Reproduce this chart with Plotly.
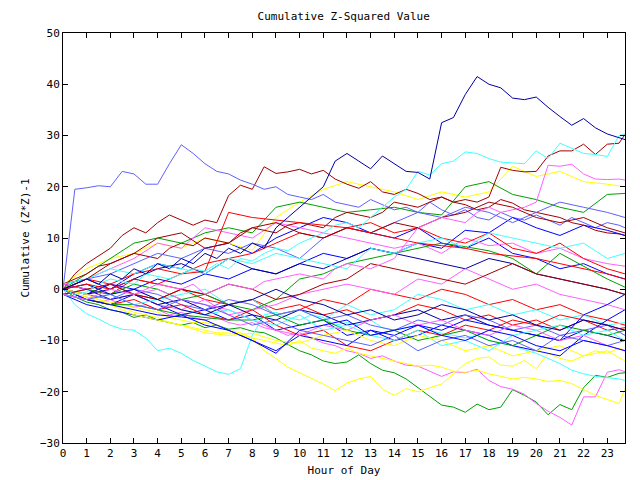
import plotly.graph_objects as go

HOURS = list(range(24)) + [23.75]
HALF_HOURS = [i / 2 for i in range(48)] + [23.75]
TICK_HOURS = list(range(24))

RED = "#ff0000"; GREEN = "#00a000"; BLUE = "#0000ff"; MAGENTA = "#ff60ff"
CYAN = "#40ffff"; YELLOW = "#ffff00"; DARKRED = "#a00000"; DARKBLUE = "#0000a0"; LIGHTBLUE = "#6060ff"

# ---- hourly series (approximate readings) ----
red_1 = [0, -1, 1, -1, -2, 0, -2, -3, -2, -4, -3, -5, -4, -6, -5, -3, -4, -6, -5, -7, -6, -8, -6, -8, -7.5]
red_2 = [1, 0, -1, 2, 1, 0, -1, -3, -2, -5, -4, -2, -3, 0, -1, -2, 0, -1, -3, -2, -4, -3, -5, -6, -7]
red_3 = [0, 2, 1, 3, 4, 3, 5, 6, 7, 9, 11, 10, 12, 13, 11, 12, 10, 9, 11, 8, 7, 9, 6, 4, 3]
red_4 = [-1, -2, -3, -2, -4, -3, -5, -6, -4, -7, -9, -8, -11, -12, -10, -8, -9, -7, -8, -6, -7, -5, -6, -7, -8]
red_5 = [0, 1, 0, 2, 1, 3, 3.5, 15, 14, 13.5, 13, 12.5, 12, 11, 10, 9, 8.5, 8, 7, 6.5, 6, 5, 4, 3, 2]

green_2 = [0, 3, 6, 9, 10, 9, 11, 12, 11, 16, 17, 16, 15, 15.5, 16, 15, 14.5, 20, 21, 18.5, 17.5, 16, 15, 18.5, 18.7]
green_3 = [-1, 0, -1, 1, 0, -2, -1, -3, -4, -2, 2, 3, 5, 6, 7, 8, 9, 8.3, 7.5, 6, 3, 7, 4.5, 2, 0.4]
green_4 = [-1, -2, -3, -3, -4, -5, -5.5, -6, -6, -5, -7, -6, -8, -9, -8, -10, -9, -8, -10, -11, -9, -7, -8, -9, -8]

blue_1 = [1, 2, 0, 3, 5, 4, 8, 9, 7, 10, 12, 14, 13, 11, 10, 12, 9, 8, 10, 7, 6, 4, 5, 3, 2]
blue_2 = [0, -1, 1, 0, 2, 1, 3, 2, 4, 3, 5, 7, 6, 8, 7, 9, 8, 11.5, 11, 14, 12, 10.5, 12.5, 11.5, 10.5]
blue_3 = [0, -2, -3, -1, -3, -5, -4, -6, -5, -8, -7, -6, -9, -8, -10, -9, -7, -8, -9, -11, -12, -13, -9, -6, -4]
blue_4 = [-1, -3, -4, -5, -6, -5, -7, -8, -10, -12, -9, -10, -11, -8, -9, -7, -8, -6, -7, -8, -9, -10, -5, -3, -1]
blue_5 = [0, -2, -3, -4, -5, -5.4, -6, -8, -10, -12.5, -8, -7, -6, -9, -8, -7, -9, -10, -8, -9, -11, -12, -10, -11, -12]

magenta_2 = [0, 2, 4, 6, 9, 8, 12, 11, 10, 13, 12, 11, 10, 9, 8, 9, 7, 10, 8.5, 9, 7, 8, 6, 5, 4.5]
magenta_3 = [-1, 0, -2, -1, -3, -4, -2, -5, -4, -3, -1, 0, 1, 0, -1, 2, 1, 4, 2, 0, 1, -1, -2, -3, -4]
magenta_4 = [1, 0, 1, -1, 0, -2, -3, -4, -6, -8, -9, -7, -8, -6, -5, -7, -6, -8, -9, -7, -8, -10, -9, -11, -12]

cyan_2 = [0, 1, -1, 0, -2, -1, 0, -3, -2, -5, -4, -6, -3, -5, -4, -1, -2, -4, -3, -5, -4, -6, -5, -7, -6.5]
cyan_3 = [1, 2, 4, 3, 5, 4, 3, 6, 5, 7, 6, 5, 4, 8, 7, 9, 10, 8, 11, 10, 9, 8, 9, 6, 7]
cyan_4 = [-1, -2, -1, -3, -2, -4, -5, -4, -6, -7, -5, -8, -7, -9, -10, -8, -11, -10, -12, -9, -8, -7, -9, -8, -10]

yellow_1 = [1, 4, 6, 7, 9, 8, 10, 9, 7.6, 14, 17, 19.5, 21, 20, 19, 17.5, 19, 18, 19, 24, 22, 23, 21, 20.5, 20]
yellow_4 = [0, -1, -3, -5, -6, -7, -8.5, -9, -8.6, -10, -10.5, -9, -8, -10, -11, -9, -10, -12, -11, -13, -12, -11, -13, -12, -14]

darkred_3 = [0, 2, 5, 7, 10, 11, 8, 9, 12, 13, 11, 10, 12, 11, 13, 12, 14, 15, 17, 16, 14, 13, 14, 12, 11]
darkred_4 = [-1, 0, 1, -1, -2, 0, -1, 1, 0, -2, -1, 1, 2, 5, 4, 3, 2, 1, 3, 5, 3, 2, 1, 0, -1]

darkblue_2 = [0, -1, 0, 2, 4, 5, 3, 6, 4, 3, 5, 4, 6, 8, 7, 6, 5, 4, 6, 5, 3, 2, 1, 0, -1]
darkblue_3 = [1, 0, -2, -1, -3, -2, -4, -3, -5, -6, -4, -5, -7, -6, -5, -4, -6, -5, -7, -8, -9, -10, -8, -9, -10]
darkblue_4 = [0, 1, -1, 0, -2, -4, -5, -3, -2, 0, -2, -3, -5, -4, -6, -5, -3, -4, -6, -5, -7, -8, -6, -7, -8]

lightblue_2 = [0, 2, 3, 5, 7, 6, 8, 7, 9, 8, 6, 10, 12, 11, 13, 15, 14, 16, 15, 13, 15, 17, 16, 15, 14]
lightblue_3 = [0, -1, -2, 0, -1, -3, -4, -2, -3, -5, -4, -6, -5, -7, -8, -6, -7, -5, -6, -8, -7, -9, -8, -7, -9]
lightblue_4 = [-1, -2, -1, -3, -4, -2, -3, -5, -7, -6, -8, -9, -10, -11, -9, -12, -10, -9, -11, -10, -12, -9, -10, -11, -10]

# ---- half-hourly series for the most visible lines ----
green_1 = [0, -1.5, -2.5, -3, -4, -4.5, -5.5, -5, -6, -6.5,
           -7, -6.5, -7.5, -7, -7.8, -7.5, -8.2, -8.5, -9.5, -10.8,
           -12, -12.8, -14, -14.5, -14.2, -12.8, -14.5, -15.8, -16.3, -17.5,
           -19.2, -21, -22.6, -23, -24, -22.4, -23.5, -23, -19.6, -20.7,
           -22, -24.5, -22.5, -23.5, -19.2, -16.8, -17.2, -16.4, -16.3]
magenta_1 = [0, -1, -1.5, -2.5, -2, -3, -3.5, -3, -4, -5,
             -4.5, -5.5, -6, -5.5, -6.5, -7, -6.5, -7.5, -8, -9,
             -8.5, -9.5, -10.5, -11, -12, -12.5, -13.5, -13, -14, -14.8,
             -15, -16, -17, -16.1, -16.3, -15.6, -17.8, -19, -19.5, -20.5,
             -22.3, -23.8, -25, -26.5, -21, -21, -16.2, -15.7, -16.1]
cyan_1 = [0, -3, -4.8, -5.8, -7, -7.8, -8, -9.5, -12, -11.5,
          -12.5, -13.9, -15, -16.1, -16.6, -15.5, -9, -5, -4.5, -5.5,
          -6, -5, -5.5, -7, -6.5, -7, -6, -7.5, -8, -7.5,
          -7, -8, -8.6, -9, -9.5, -9, -10, -10.5, -11, -11.8,
          -12.5, -13.5, -14.5, -15.8, -16.5, -17, -17.2, -17.5, -17.8]
yellow_2 = [0, -1, -1.5, -2.5, -3, -3.5, -4.5, -5, -5.5, -6.5,
            -7, -7.5, -8, -8.5, -8.5, -9, -9.5, -12, -13.5, -15.2,
            -16.3, -17.4, -18.5, -19.8, -18.3, -17.5, -17, -19.5, -20.7, -19.4,
            -20, -19.2, -18.5, -16.5, -14.5, -13.5, -13.2, -14.8, -15, -13.9,
            -15.5, -12.5, -13.5, -14, -13, -12, -12.5, -11.5, -12]
yellow_3 = [0, -0.5, -1, -2, -2.5, -3, -3.5, -4, -4.5, -5.5,
            -6, -6.5, -6.5, -7, -8, -8.5, -9.5, -10, -10.5, -11,
            -10, -11.5, -12, -12.5, -11.5, -12.5, -13, -13.5, -14, -14.5,
            -15, -14.8, -15.2, -16, -16.2, -15.8, -16.5, -17, -17.5, -17.2,
            -17.5, -18, -17.8, -18.4, -19.5, -20.7, -21.5, -22.3, -19.4]
darkred_1 = [0, 3, 5, 6.5, 8, 10.5, 12, 11, 13, 14.5,
             13.5, 12.5, 13.5, 13, 18.3, 20.3, 19.5, 23.9, 22.6, 22.9,
             23.4, 22.5, 23.2, 21.5, 20.5, 19.7, 21, 19, 18.5, 19.5,
             18.7, 17.5, 18, 17, 16.5, 15.5, 16, 17.5, 16.8, 15.5,
             15, 14.5, 14, 13, 12.5, 11.5, 11, 10.8, 10.5]
darkred_2 = [1, 2, 3, 4.5, 5, 6, 7, 6.5, 6, 8,
             9, 8.5, 10, 9.5, 9, 11, 12, 11.5, 11, 12.5,
             13, 12.5, 12, 14, 15, 14.5, 14, 15, 17, 16.5,
             16, 17, 18, 17, 17.5, 17, 18, 23.8, 23.2, 22.9,
             23, 26, 27, 27, 28.3, 26.3, 28.3, 28.5, 30.2]
cyan_5 = [0, -1, -0.5, 1, 2, 1.5, 1, 3, 2.5, 2,
          3, 4, 3.5, 5, 4, 6, 5.5, 7, 8, 7.5,
          9, 10, 11, 12.5, 13, 12, 14, 16, 18, 19.5,
          23, 22.3, 24.5, 25, 26.8, 26.5, 25.5, 24.8, 24.6, 24.5,
          27, 25.5, 28.5, 27.5, 26.5, 26.3, 25.9, 30, 30.3]
magenta_5 = [-1, -1.5, -2, -1, 0, -0.5, -1, 0, 1, 0.5,
             0, 1, -1, 0, 1, 0.5, 0, 1.5, 2, 2.5,
             3, 2.5, 2, 4, 5, 4.5, 4, 5, 6, 9,
             12, 13, 14, 13.5, 13, 15, 16, 15, 15.5, 16,
             17, 24.2, 24, 24.4, 22.5, 21.5, 21.4, 21.5, 21.3]
lightblue_1 = [0, 19.5, 19.8, 20.2, 20, 23, 22.5, 20.5, 20.5, 24.5,
               28.2, 26.5, 24.5, 23, 22.5, 21.3, 20.5, 19.5, 20, 18.5,
               18, 17.5, 18.5, 17, 16.5, 16, 17.5, 16.5, 15.5, 16,
               15, 17, 15.5, 14.5, 15.5, 14, 13.5, 15, 14, 13.5,
               14.5, 13.5, 12.5, 14, 13, 12, 13, 12.5, 12]
darkblue_1 = [0, 1, 2, 1, 3, 2, 4, 3, 5, 4,
              6, 5, 7, 6, 8, 7, 9, 8, 12, 14,
              16, 18, 20, 25, 26.5, 25, 23.5, 26, 24.5, 23,
              22.8, 21.5, 32.5, 33.5, 38, 41.5, 40, 39.3, 37.3, 37,
              37.5, 35.5, 33.7, 32, 33.3, 31.5, 30.3, 29.6, 29.2]

SERIES = [
    (HOURS, red_1, RED), (HALF_HOURS, green_1, GREEN), (HOURS, blue_1, BLUE), (HALF_HOURS, magenta_1, MAGENTA),
    (HALF_HOURS, cyan_1, CYAN), (HOURS, yellow_1, YELLOW), (HALF_HOURS, darkred_1, DARKRED),
    (HALF_HOURS, lightblue_1, LIGHTBLUE),
    (HOURS, red_2, RED), (HOURS, green_2, GREEN), (HOURS, blue_2, BLUE), (HOURS, magenta_2, MAGENTA),
    (HOURS, cyan_2, CYAN), (HALF_HOURS, yellow_2, YELLOW), (HALF_HOURS, darkred_2, DARKRED),
    (HOURS, darkblue_2, DARKBLUE), (HOURS, lightblue_2, LIGHTBLUE),
    (HOURS, red_3, RED), (HOURS, green_3, GREEN), (HOURS, blue_3, BLUE), (HOURS, magenta_3, MAGENTA),
    (HOURS, cyan_3, CYAN), (HALF_HOURS, yellow_3, YELLOW), (HOURS, darkred_3, DARKRED),
    (HOURS, darkblue_3, DARKBLUE), (HOURS, lightblue_3, LIGHTBLUE),
    (HOURS, red_4, RED), (HOURS, green_4, GREEN), (HOURS, blue_4, BLUE), (HOURS, magenta_4, MAGENTA),
    (HOURS, cyan_4, CYAN), (HOURS, yellow_4, YELLOW), (HOURS, darkred_4, DARKRED),
    (HOURS, darkblue_4, DARKBLUE), (HOURS, lightblue_4, LIGHTBLUE),
    (HOURS, red_5, RED), (HOURS, blue_5, BLUE), (HALF_HOURS, magenta_5, MAGENTA), (HALF_HOURS, cyan_5, CYAN),
    (HALF_HOURS, darkblue_1, DARKBLUE),
]

FONT = "DejaVu Sans Mono"

fig = go.Figure()
for xs, vals, col in SERIES:
    fig.add_trace(go.Scatter(x=xs, y=vals, mode="lines",
                             line=dict(color=col, width=1), showlegend=False, hoverinfo="skip"))

axis_common = dict(showgrid=False, zeroline=False, showline=True, linecolor="black", linewidth=1,
                   mirror="ticks", ticks="inside", ticklen=5, tickcolor="black", tickwidth=1,
                   automargin=False, tickfont=dict(family=FONT, size=11, color="black"))

fig.update_layout(
    width=640, height=480,
    margin=dict(l=63, r=15, t=33, b=37),
    paper_bgcolor="white", plot_bgcolor="white",
    title=dict(text="Cumulative Z-Squared Value", x=0.537, xanchor="center", y=1 - 16 / 480, yanchor="middle",
               font=dict(family=FONT, size=11, color="black")),
    xaxis=dict(range=[0, 23.75], tickvals=TICK_HOURS,
               title=dict(text="Hour of Day", font=dict(family=FONT, size=11, color="black"), standoff=7),
               **axis_common),
    yaxis=dict(range=[-30, 50], tickvals=[-30, -20, -10, 0, 10, 20, 30, 40, 50],
               title=dict(text="Cumulative (Z*Z)-1", font=dict(family=FONT, size=11, color="black"), standoff=8),
               **axis_common),
)

fig.write_html("out.html")
